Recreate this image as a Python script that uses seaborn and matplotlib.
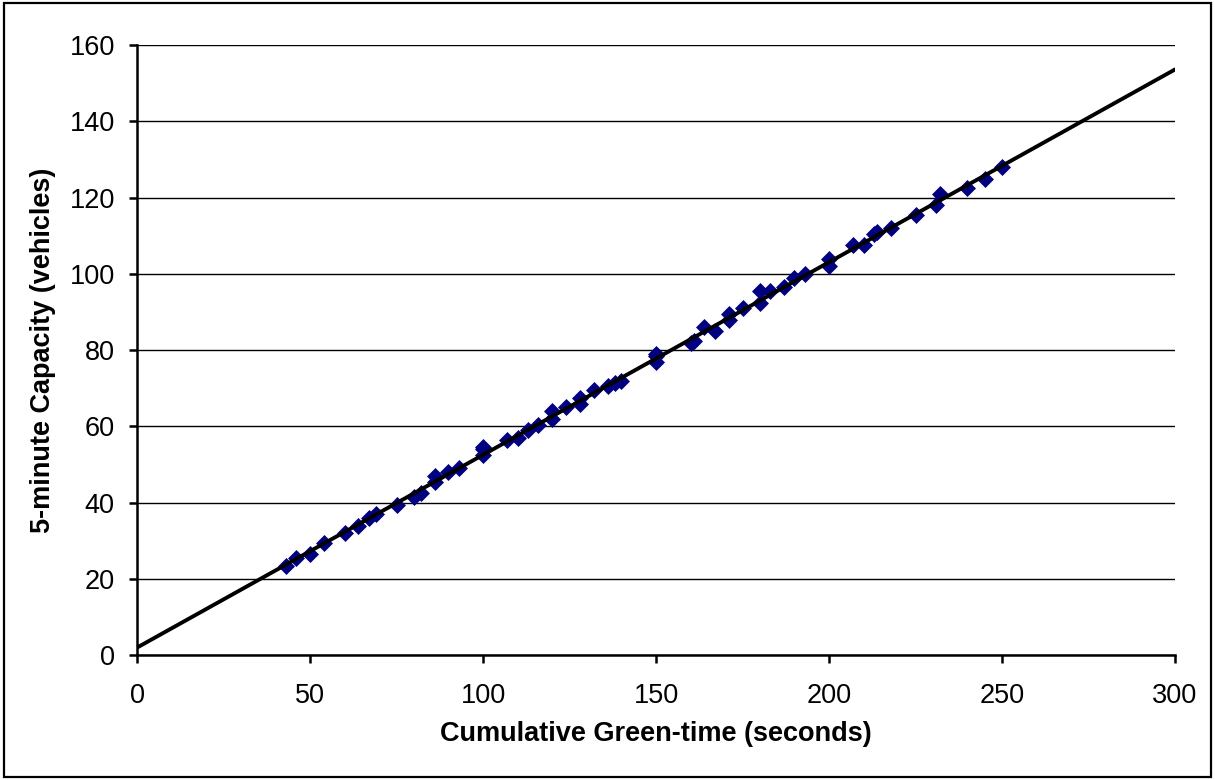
import matplotlib
matplotlib.use("Agg")
import matplotlib.pyplot as plt
import seaborn as sns
import numpy as np
import pandas as pd
from matplotlib.patches import Rectangle

green_time = [43, 46, 50, 54, 60, 64, 67, 69, 75, 80, 82, 86, 86, 90, 93,
              100, 100, 100, 107, 110, 113, 116, 120, 120, 124, 128, 128,
              132, 136, 138, 140, 150, 150, 150, 160, 161, 164, 167, 171,
              171, 175, 180, 180, 183, 187, 190, 193, 200, 200, 207, 210,
              213, 214, 218, 225, 231, 232, 240, 245, 250]
capacity = [23.5, 25.5, 26.5, 29.5, 32, 34, 36, 37, 39.5, 41.5, 42.5, 45.5,
            47, 48, 49, 52.5, 54, 54.5, 56.5, 57, 59, 60.5, 62, 64, 65, 66,
            67.5, 69.5, 70.5, 71.5, 72, 77, 78.5, 79, 82, 82.5, 86, 85, 88,
            89.5, 91, 92.5, 95.5, 95.5, 96.5, 99, 100, 102, 104, 107.5,
            107.5, 110.5, 111, 112, 115.5, 118, 121, 122.5, 125, 128]
fit_x = [0, 300]
fit_intercept = 2.0
fit_slope = 0.5055

x_ticks = [0, 50, 100, 150, 200, 250, 300]
y_ticks = [0, 20, 40, 60, 80, 100, 120, 140, 160]
x_label = "Cumulative Green-time (seconds)"
y_label = "5-minute Capacity (vehicles)"

sns.set_theme(style="white")
plt.rcParams["font.family"] = ["Liberation Sans", "DejaVu Sans"]

fig = plt.figure(figsize=(12.15, 7.8), dpi=100)
ax = fig.add_axes([0.1128, 0.160, 0.8543, 0.782])

df = pd.DataFrame({"x": green_time, "y": capacity})
sns.scatterplot(data=df, x="x", y="y", ax=ax, marker="D", s=75,
                color="#000080", edgecolor="#000080", linewidth=0, zorder=3)

fit_y = [fit_intercept + fit_slope * v for v in fit_x]
ax.plot(fit_x, fit_y, color="black", linewidth=2.8, zorder=4)

ax.set_xlim(0, 300)
ax.set_ylim(0, 160)
ax.set_xticks(x_ticks)
ax.set_yticks(y_ticks)
ax.yaxis.grid(True, color="black", linewidth=1.0)
ax.xaxis.grid(False)
ax.set_axisbelow(True)

for s in ["top", "right"]:
    ax.spines[s].set_visible(False)
for s in ["left", "bottom"]:
    ax.spines[s].set_color("black")
    ax.spines[s].set_linewidth(1.8)

ax.tick_params(axis="both", direction="out", length=6, width=1.8,
               color="black", labelsize=19.5, labelcolor="black",
               bottom=True, left=True)
ax.tick_params(axis="x", pad=14)
ax.tick_params(axis="y", pad=10)

ax.set_xlabel(x_label, fontsize=19.5, fontweight="bold", color="black", labelpad=9)
ax.set_ylabel(y_label, fontsize=19.5, fontweight="bold", color="black", labelpad=10)

fig.patches.append(Rectangle((0.003, 0.004), 0.994, 0.992, transform=fig.transFigure,
                             fill=False, edgecolor="black", linewidth=1.6))

fig.savefig("out.png", dpi=100, facecolor="white")
